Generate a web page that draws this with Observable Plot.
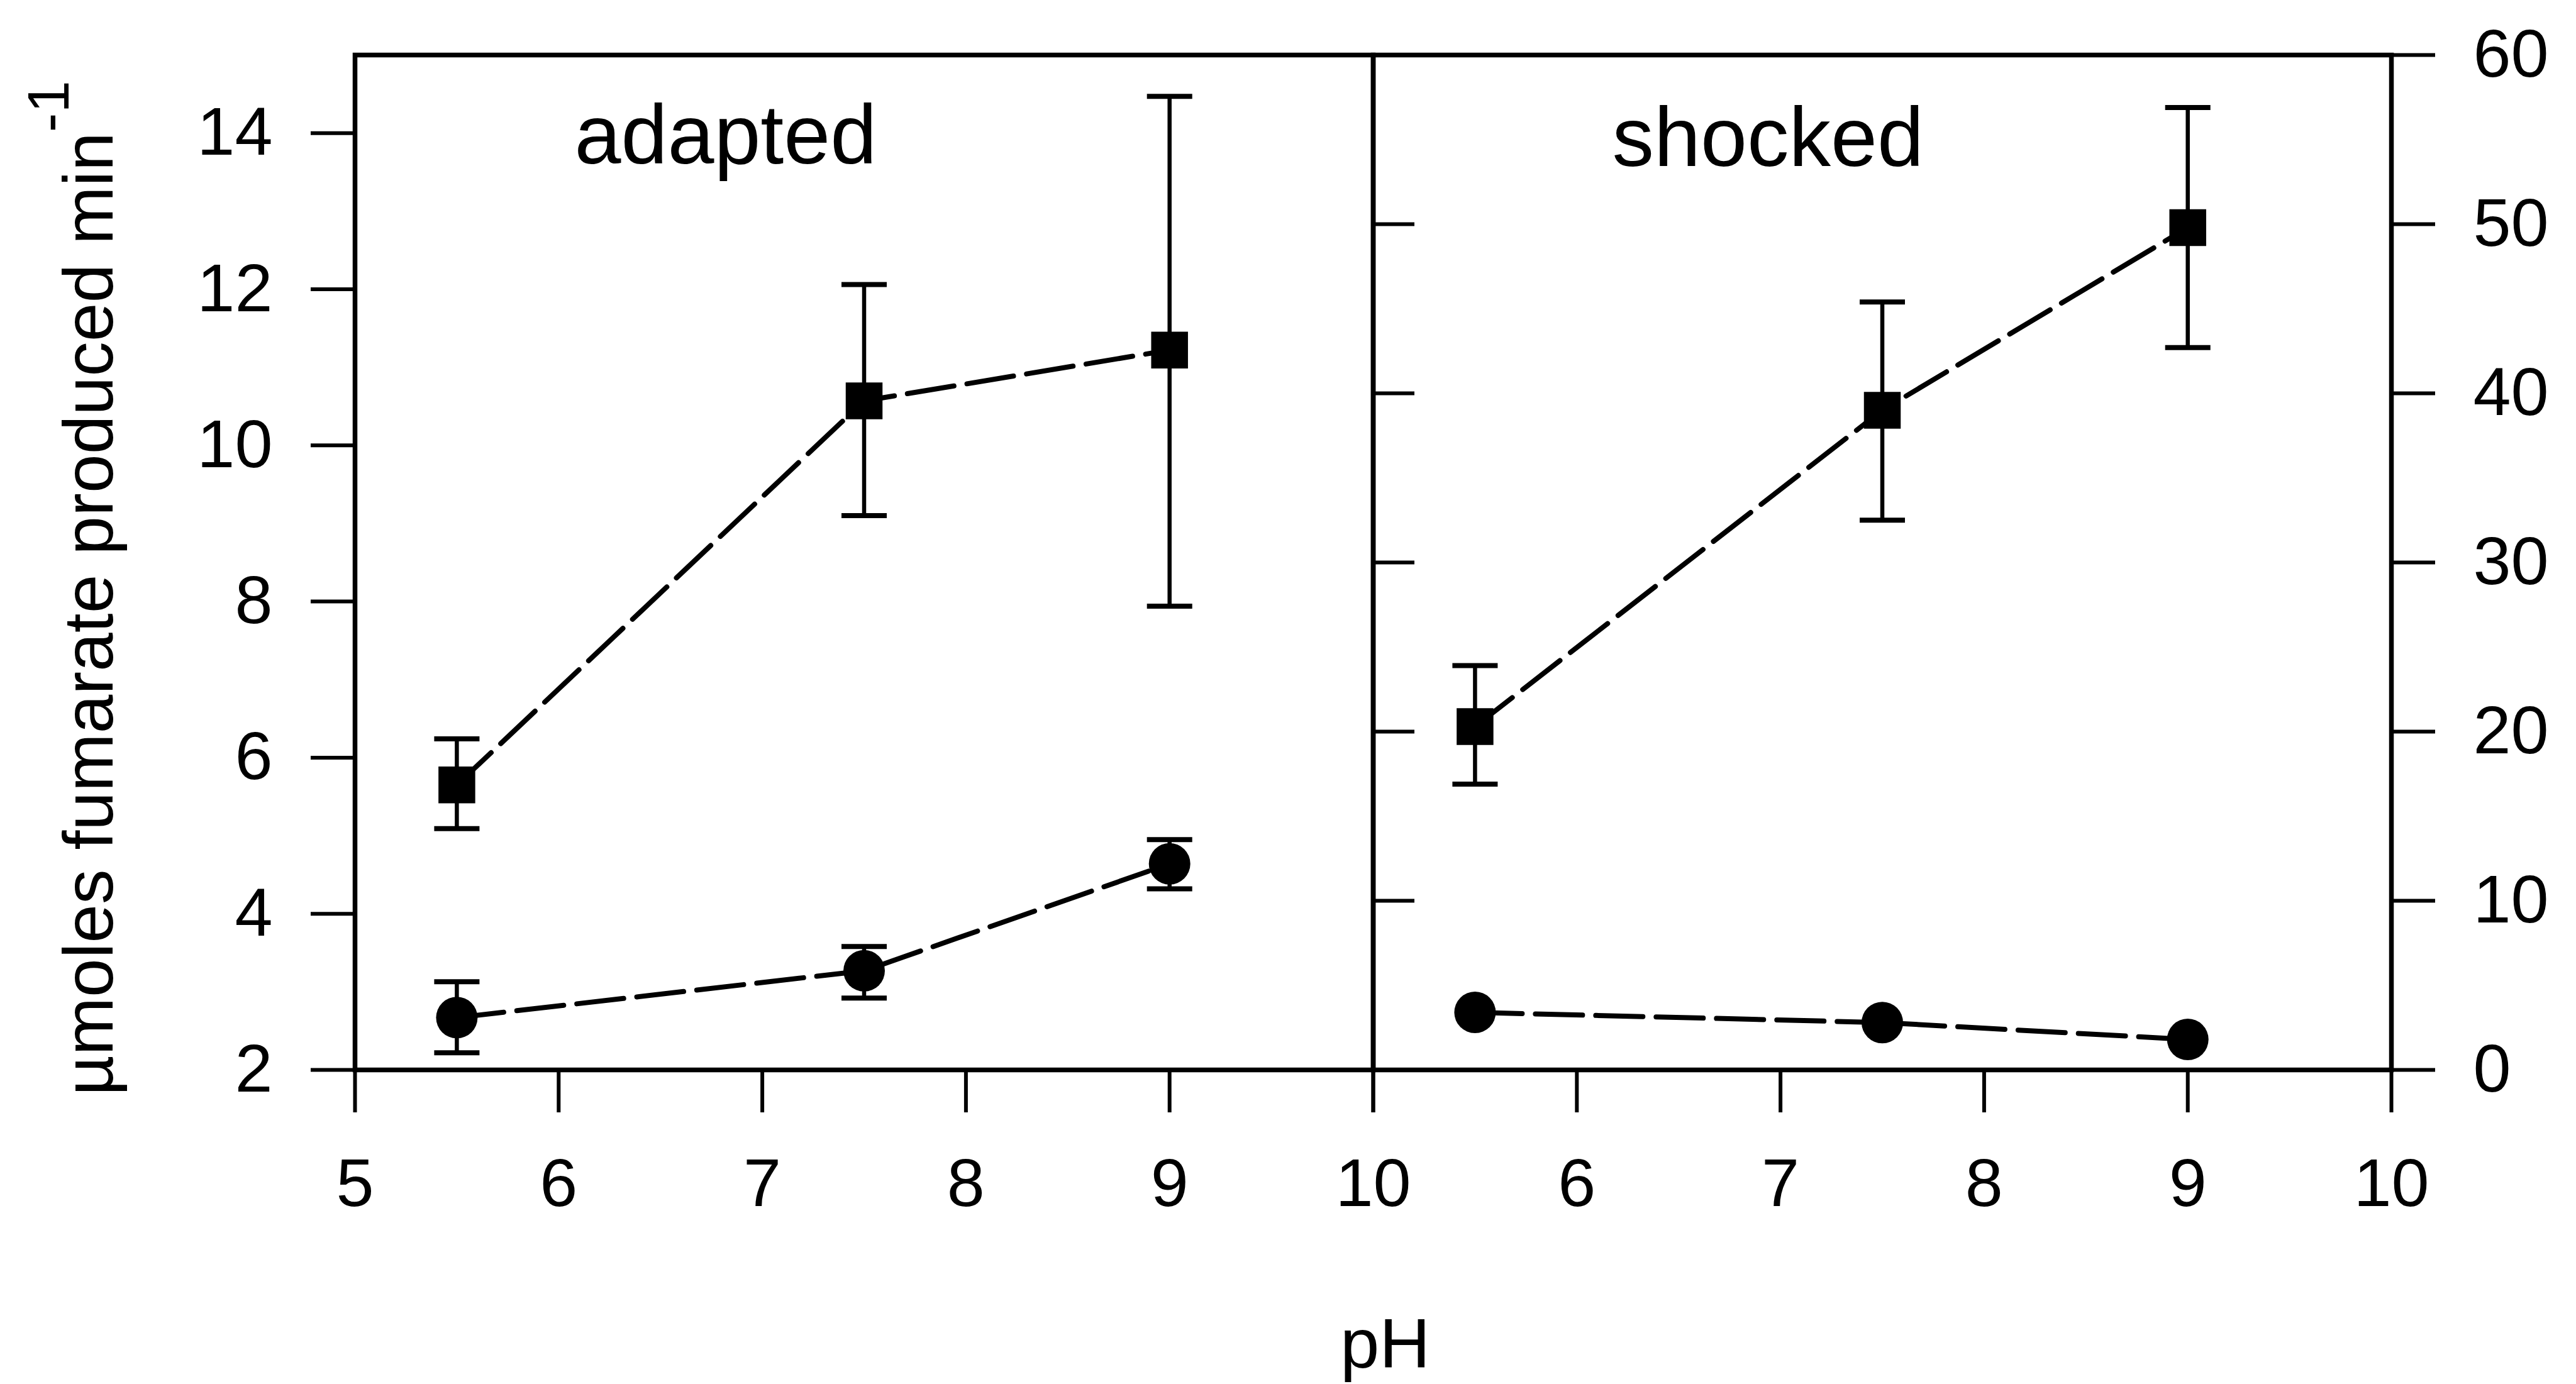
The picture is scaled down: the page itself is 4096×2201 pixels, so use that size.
<!DOCTYPE html>
<html><head><meta charset="utf-8">
<script src="https://cdn.jsdelivr.net/npm/d3@7"></script>
<script src="https://cdn.jsdelivr.net/npm/@observablehq/plot@0.6"></script>
<style>
html,body{margin:0;padding:0;background:#fff;}
#chart{position:relative;width:4096px;height:2201px;overflow:hidden;}
#chart svg{position:absolute;left:0;top:0;}
</style></head><body><div id="chart"></div>
<script>
// ---- data ----
const pH = [5.5, 7.5, 9];
const xTicks = [5, 6, 7, 8, 9, 10];
const leftTicks = [2, 4, 6, 8, 10, 12, 14];
const rightTicks = [0, 10, 20, 30, 40, 50, 60];
const innerTicks = [10, 20, 30, 40, 50];

const adaptedSquare   = [5.65, 10.57, 11.22];
const adaptedSquareLo = [5.09, 9.10, 7.94];
const adaptedSquareHi = [6.24, 12.06, 14.47];
const adaptedCircle   = [2.67, 3.27, 4.64];
const adaptedCircleLo = [2.22, 2.92, 4.32];
const adaptedCircleHi = [3.13, 3.58, 4.95];

const shockedSquare   = [20.3, 39.0, 49.8];
const shockedSquareLo = [16.9, 32.5, 42.7];
const shockedSquareHi = [23.9, 45.4, 56.9];
const shockedCircle   = [3.4, 2.8, 1.8];

const panelTitles = ["adapted", "shocked"];
const yLabel = "\u00B5moles fumarate produced min";
const yLabelSup = "-1";
const xLabel = "pH";

// ---- helpers ----
const rows = (y, lo, hi) => pH.map((x, i) => ({x, y: y[i], lo: lo ? lo[i] : null, hi: hi ? hi[i] : null}));
const capSymbol = {draw(ctx, size) { const r = Math.sqrt(size / Math.PI); ctx.moveTo(-r, 0); ctx.lineTo(r, 0); }};
const FONT = "Liberation Sans, Arial, sans-serif";
const W = 4096, H = 2201;
const fTop = 87, fBottom = 1701, fLeft = 564, fMid = 2183, fRight = 3802;
const tickFont = 108;

function seriesMarks(data, symbol, r, withErr) {
  const m = [];
  if (withErr) {
    m.push(Plot.ruleX(data, {x: "x", y1: "lo", y2: "hi", stroke: "black", strokeWidth: 6.5}));
    m.push(Plot.dot(data, {x: "x", y: "lo", symbol: capSymbol, r: 36, fill: "none", stroke: "black", strokeWidth: 8}));
    m.push(Plot.dot(data, {x: "x", y: "hi", symbol: capSymbol, r: 36, fill: "none", stroke: "black", strokeWidth: 8}));
  }
  m.push(Plot.line(data, {x: "x", y: "y", stroke: "black", strokeWidth: 8, strokeDasharray: "75,21"}));
  m.push(Plot.dot(data, {x: "x", y: "y", symbol, r, fill: "black", stroke: "none"}));
  return m;
}

const styleCommon = {fontFamily: FONT, fontSize: tickFont + "px", background: "none", color: "black", overflow: "visible"};

const plotA = Plot.plot({
  width: W, height: H,
  marginLeft: fLeft, marginRight: W - fMid, marginTop: fTop, marginBottom: H - fBottom,
  style: styleCommon,
  x: {domain: [5, 10], axis: null},
  y: {domain: [2, 15], axis: null},
  marks: [
    Plot.frame({stroke: "black", strokeWidth: 7.5}),
    Plot.axisX({ticks: xTicks, tickSize: 68, tickPadding: 72, strokeWidth: 6, fontSize: tickFont, label: null, tickFormat: d => String(d)}),
    Plot.axisY({ticks: leftTicks, tickSize: 70, tickPadding: 61, strokeWidth: 6, fontSize: tickFont, label: null, tickFormat: d => String(d)}),
    ...seriesMarks(rows(adaptedSquare, adaptedSquareLo, adaptedSquareHi), "square", 33, true),
    ...seriesMarks(rows(adaptedCircle, adaptedCircleLo, adaptedCircleHi), "circle", 33, true),
    Plot.text([panelTitles[0]], {text: d => d, frameAnchor: "top-left", dx: 349, dy: 172, lineAnchor: "bottom", textAnchor: "start", fontSize: 133, fill: "black"}),
    Plot.text([yLabel], {text: d => d, frameAnchor: "bottom-left", dx: 178 - fLeft, dy: 1742 - fBottom, rotate: -90, textAnchor: "start", lineAnchor: "bottom", fontSize: 111, fill: "black"}),
    Plot.text([xLabel], {text: d => d, frameAnchor: "bottom-right", dx: 19, dy: 2174 - fBottom, lineAnchor: "bottom", textAnchor: "middle", fontSize: 112, fill: "black"})
  ]
});

const plotB = Plot.plot({
  width: W, height: H,
  marginLeft: fMid, marginRight: W - fRight, marginTop: fTop, marginBottom: H - fBottom,
  style: styleCommon,
  x: {domain: [5, 10], axis: null},
  y: {domain: [0, 60], axis: null},
  marks: [
    Plot.frame({stroke: "black", strokeWidth: 7.5}),
    Plot.axisX({ticks: xTicks, tickSize: 68, tickPadding: 72, strokeWidth: 6, fontSize: tickFont, label: null, tickFormat: d => d === 5 ? "" : String(d)}),
    Plot.axisY({anchor: "right", ticks: rightTicks, tickSize: 69, tickPadding: 61, strokeWidth: 6, fontSize: tickFont, label: null, tickFormat: d => String(d)}),
    Plot.axisY({anchor: "left", ticks: innerTicks, tickSize: -66, tickPadding: 0, strokeWidth: 6, tickFormat: () => "", label: null}),
    ...seriesMarks(rows(shockedSquare, shockedSquareLo, shockedSquareHi), "square", 33, true),
    ...seriesMarks(rows(shockedCircle), "circle", 33, false),
    Plot.text([panelTitles[1]], {text: d => d, frameAnchor: "top-left", dx: 2563 - fMid, dy: 176, lineAnchor: "bottom", textAnchor: "start", fontSize: 133, fill: "black"})
  ]
});

const chart = document.getElementById("chart");
chart.appendChild(plotA);
chart.appendChild(plotB);

// superscript on the y-axis label
d3.select(plotA).selectAll("text").filter(function() { return this.textContent === yLabel; })
  .append("tspan").attr("dy", "-70").attr("font-size", 92).text(yLabelSup);
</script></body></html>
